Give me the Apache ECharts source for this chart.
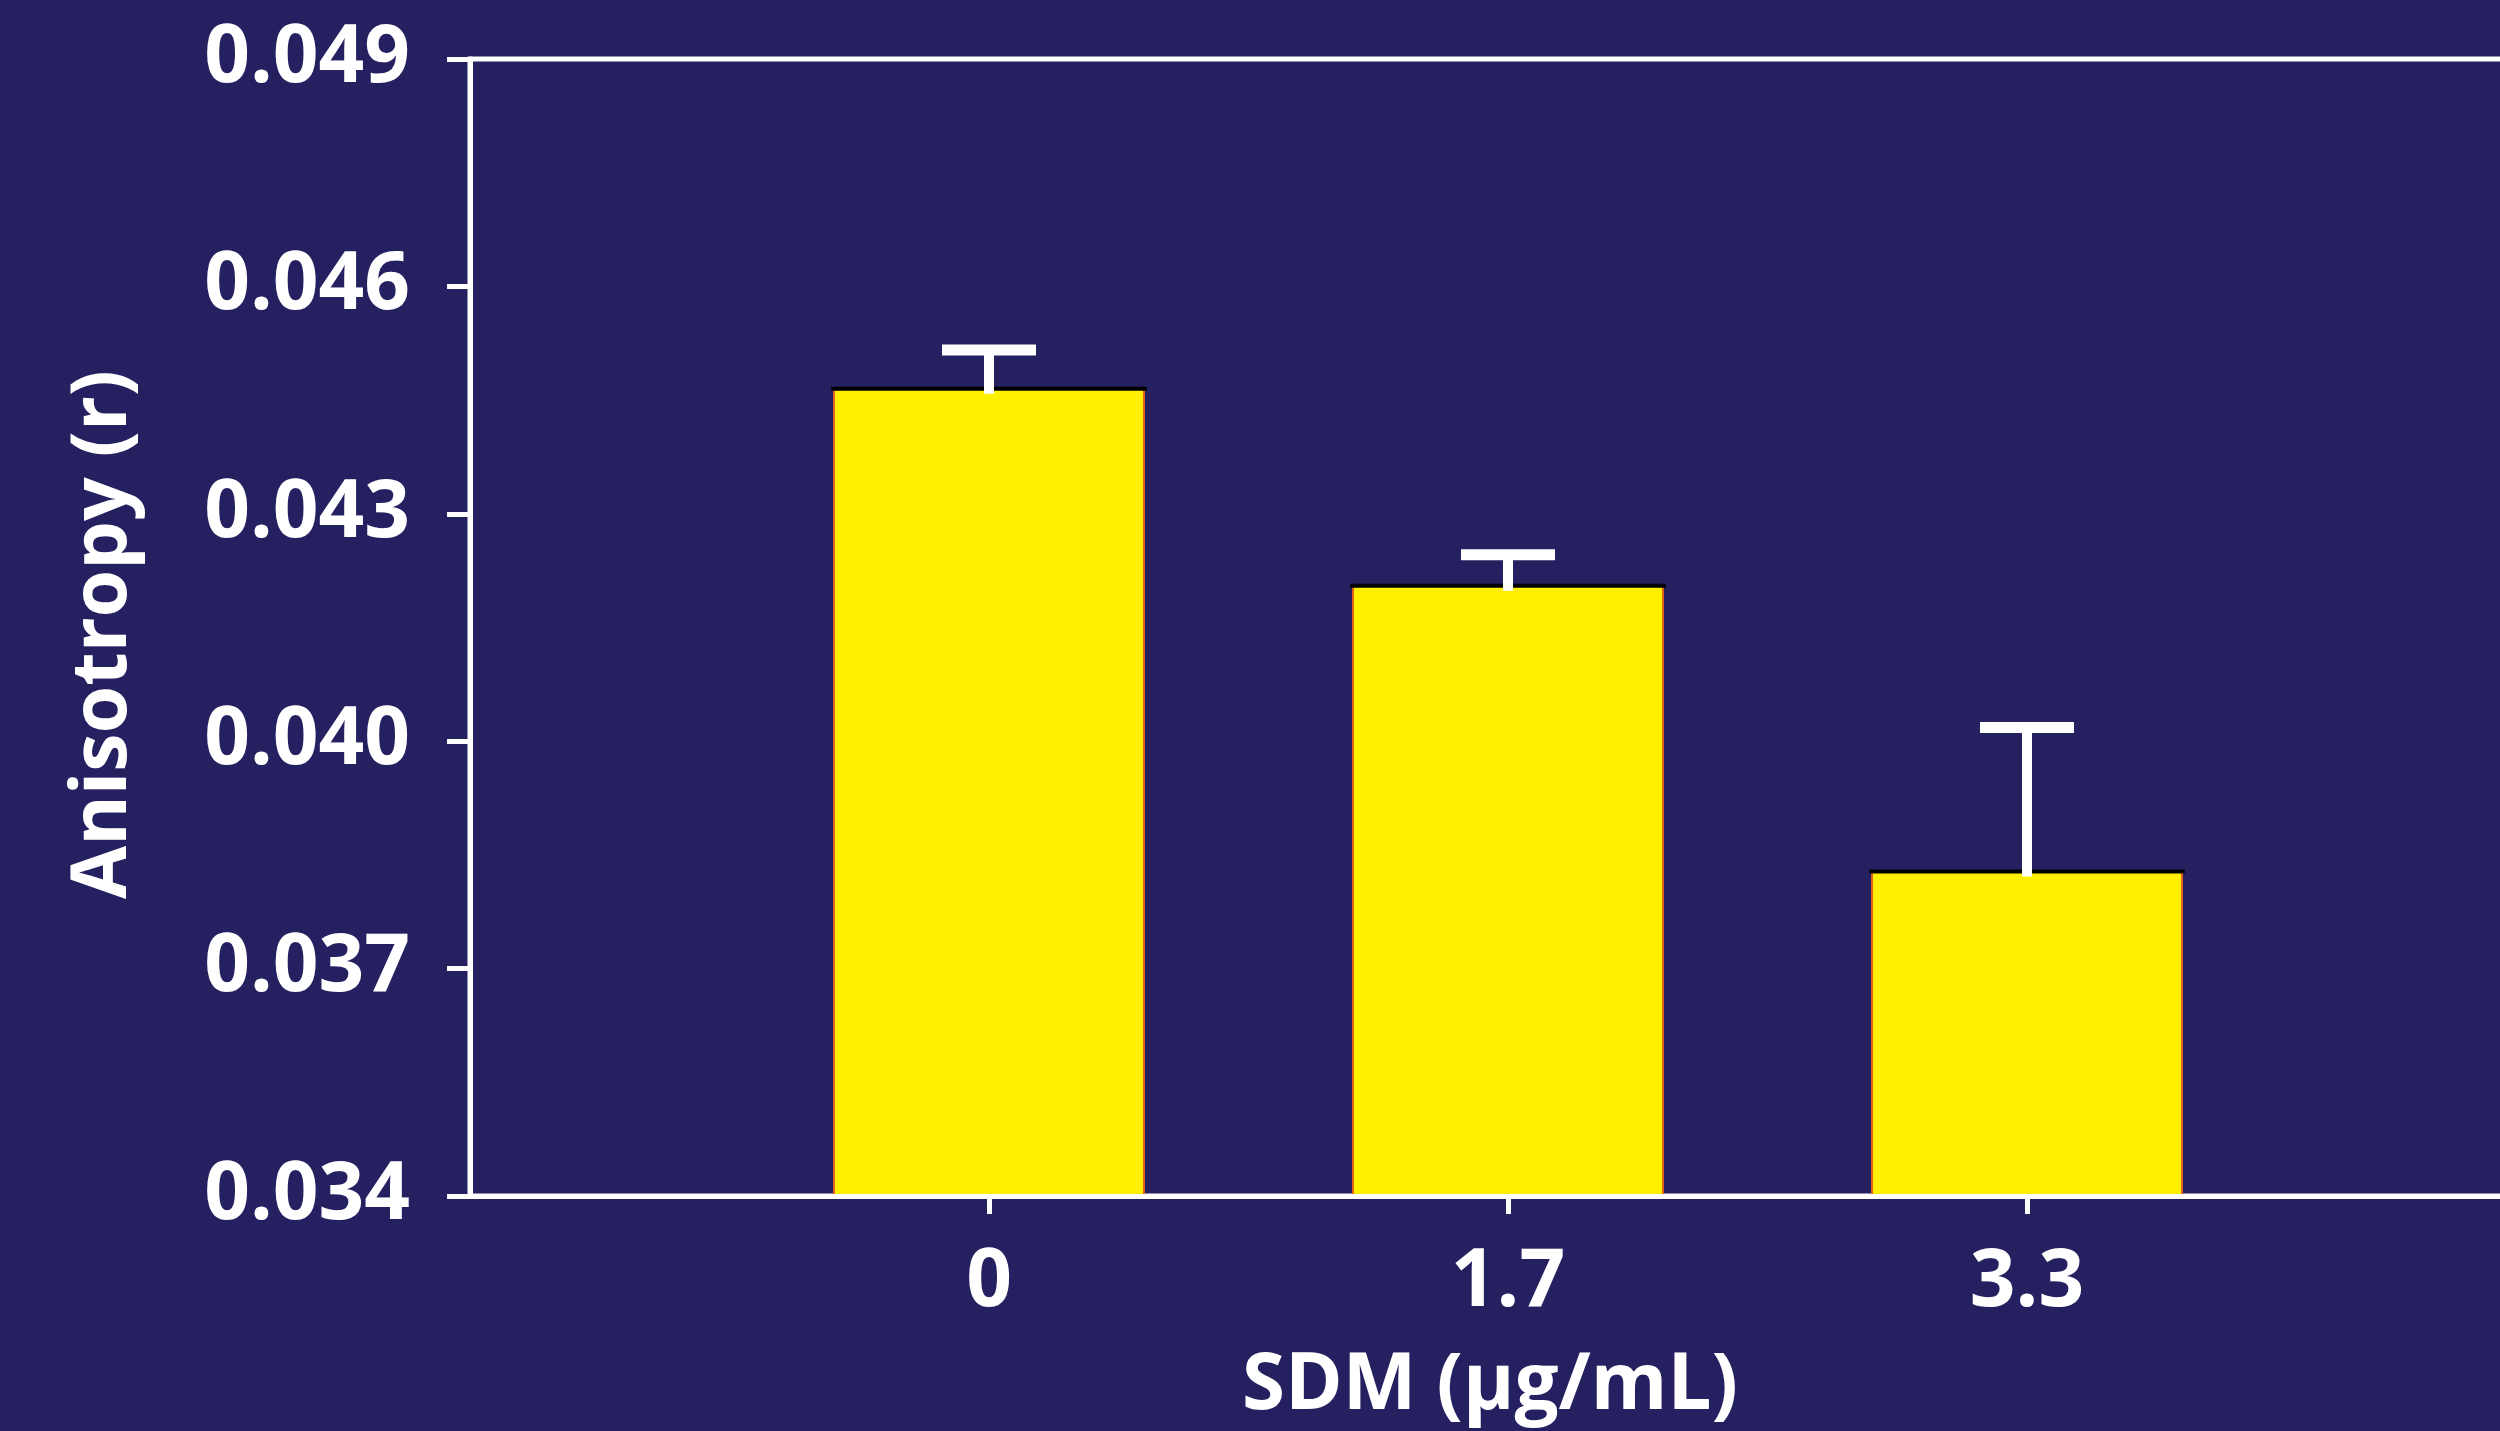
<!DOCTYPE html>
<html>
<head>
<meta charset="utf-8">
<script src="https://cdn.jsdelivr.net/npm/echarts@6/dist/echarts.min.js"></script>
<style>
html,body{margin:0;padding:0;background:#252161;}
#c{width:2500px;height:1431px;}
</style>
</head>
<body>
<div id="c"></div>
<script>
// ---- data ----
var categories = ['0', '1.7', '3.3'];
var anisotropy = [0.04465, 0.04205, 0.03828];
var errorUpper = [0.00051, 0.00041, 0.00190];
var yTickValues = [0.034, 0.037, 0.040, 0.043, 0.046, 0.049];
var xAxisTitle = 'SDM (\u00B5g/mL)';
var yAxisTitle = 'Anisotropy (r)';

// axis works in units of 0.001 above the lowest tick so ticks start at 0
var yBase = yTickValues[0];
var yStep = yTickValues[1] - yTickValues[0];
var yTop = yTickValues[yTickValues.length - 1];
function toAxis(v) { return (v - yBase) * 1000; }

var axisCats = [''].concat(categories).concat(['']);
var seriesData = categories.map(function (c, i) {
  return [i + 1, toAxis(anisotropy[i]), toAxis(anisotropy[i] + errorUpper[i])];
});

var FONT = '"Open Sans", "Noto Sans", sans-serif';
var WHITE = '#ffffff';

var chart = echarts.init(document.getElementById('c'), null, {renderer: 'canvas'});
chart.setOption({
  backgroundColor: '#252161',
  animation: false,
  grid: {
    left: 470, top: 59, width: 2076, bottom: 235,
    outerBoundsMode: 'none',
    containLabel: false,
    show: true, borderColor: WHITE, borderWidth: 5, backgroundColor: 'transparent'
  },
  xAxis: {
    type: 'category',
    data: axisCats,
    boundaryGap: false,
    z: 10,
    axisLine: {lineStyle: {color: WHITE, width: 5}},
    axisTick: {
      show: true, length: 18, lineStyle: {color: WHITE, width: 5},
      interval: function (idx, val) { return val !== ''; }
    },
    axisLabel: {
      color: WHITE, fontFamily: FONT, fontWeight: 'bold', fontSize: 80, margin: 47,
      interval: function (idx, val) { return val !== ''; }
    },
    splitLine: {show: false},
    name: xAxisTitle,
    nameLocation: 'middle',
    nameGap: 152,
    nameTextStyle: {color: WHITE, fontFamily: FONT, fontWeight: 'bold', fontSize: 78, padding: [0, 36, 0, 0]}
  },
  yAxis: {
    type: 'value',
    min: 0,
    max: toAxis(yTop),
    interval: yStep * 1000,
    z: 10,
    axisLine: {show: true, lineStyle: {color: WHITE, width: 5}},
    axisTick: {show: true, length: 23, lineStyle: {color: WHITE, width: 5}},
    axisLabel: {
      color: WHITE, fontFamily: FONT, fontWeight: 'bold', fontSize: 80, margin: 60,
      formatter: function (v) { return (yBase + v / 1000).toFixed(3); }
    },
    splitLine: {show: false},
    name: yAxisTitle,
    nameLocation: 'middle',
    nameGap: 327,
    nameTextStyle: {color: WHITE, fontFamily: FONT, fontWeight: 'bold', fontSize: 77, padding: [0, 14, 0, 0]}
  },
  series: [{
    type: 'custom',
    z: 2,
    data: seriesData,
    encode: {x: 0, y: 1},
    renderItem: function (params, api) {
      var top = api.coord([api.value(0), api.value(1)]);
      var base = api.coord([api.value(0), 0]);
      var errTop = api.coord([api.value(0), api.value(2)]);
      var w = api.size([1, 0])[0] * 0.6;
      var x0 = top[0] - w / 2;
      var capW = 94, capH = 11, stemW = 10;
      return {
        type: 'group',
        children: [
          {type: 'rect', shape: {x: x0, y: top[1], width: w, height: base[1] - top[1]},
           style: {fill: '#fff000'}},
          {type: 'rect', shape: {x: x0, y: top[1], width: 1.5, height: base[1] - top[1]},
           style: {fill: '#e8401a'}},
          {type: 'rect', shape: {x: x0 + w - 1.5, y: top[1], width: 1.5, height: base[1] - top[1]},
           style: {fill: '#e8401a'}},
          {type: 'rect', shape: {x: x0 - 2, y: top[1] - 2, width: w + 4, height: 4},
           style: {fill: '#000000'}},
          {type: 'rect', shape: {x: top[0] - stemW / 2, y: errTop[1], width: stemW, height: top[1] + 5 - errTop[1]},
           style: {fill: WHITE}},
          {type: 'rect', shape: {x: top[0] - capW / 2, y: errTop[1] - capH / 2, width: capW, height: capH},
           style: {fill: WHITE}}
        ]
      };
    }
  }]
});
</script>
</body>
</html>
